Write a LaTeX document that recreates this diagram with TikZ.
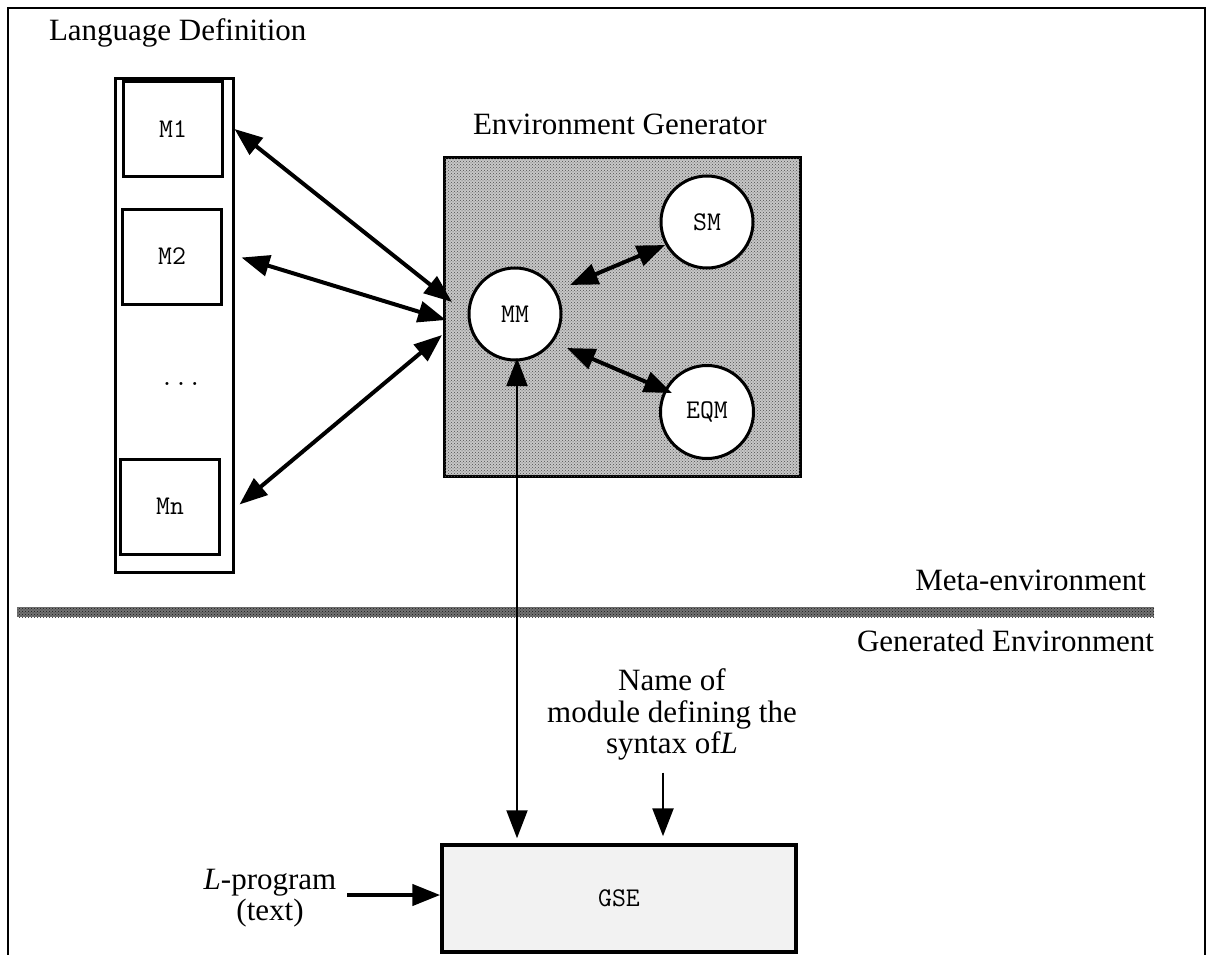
\documentclass[tikz,border=0pt]{standalone}
\usepackage{fontspec}
\setmainfont{Liberation Serif}
\usetikzlibrary{arrows.meta,calc,patterns}

\begin{document}
\begin{tikzpicture}[x=1pt,y=-1pt,
  lbl/.style={font=\fontsize{31}{31.5}\selectfont, inner sep=0pt, outer sep=0pt},
  codefont/.style={font=\ttfamily\fontsize{27}{27}\selectfont},
  modbox/.style={draw, line width=3pt, minimum width=99pt, minimum height=95pt,
    inner sep=0pt, codefont},
  modcirc/.style={circle, draw, line width=3pt, fill=white, minimum size=92pt,
    inner sep=0pt, codefont},
  tipA/.tip={Triangle[length=28pt,width=21pt]},
  link/.style={line width=4pt, tipA-tipA},
  thinlink/.style={line width=2pt, tipA-tipA},
  feed/.style={line width=2.5pt, -tipA},
  boldfeed/.style={line width=4.5pt, -tipA},
  stipple/.style={fill=black!22, postaction={pattern=crosshatch dots, pattern color=black!70}},
]
\useasboundingbox (0,0) rectangle (1207,955);

% outer frame (open at the bottom)
\draw[line width=2.5pt] (8,955) -- (8,8) -- (1205,8) -- (1205,955);

% language definition column with its modules
\node[lbl, anchor=base west] (langdef) at (49,41) {Language Definition};
\node[draw, line width=3pt, minimum width=118pt, minimum height=493pt, inner sep=0pt]
  (col) at (174,325.5) {};
\node[modbox] (M1) at (173,129) {M1};
\node[modbox] (M2) at (172,256.5) {M2};
\node[codefont, inner sep=0pt] (dots) at (181,384) {...};
\node[modbox] (Mn) at (170,506.5) {Mn};

% environment generator
\node[lbl, anchor=base west] (eglabel) at (473,135) {Environment Generator};
\node[draw, line width=3pt, stipple, minimum width=356pt, minimum height=319pt, inner sep=0pt]
  (EG) at (622,316.5) {};
\node[modcirc] (MM) at (515,314) {MM};
\node[modcirc] (SM) at (707,222) {SM};
\node[modcirc, minimum size=93pt] (EQM) at (707,412) {EQM};

% module links
\draw[link] (col.east |- M1) -- ($(MM)+(-63,-12)$);
\draw[link] ($(col.east |- M2)+(7,1)$) -- ($(MM)+(-69,6)$);
\draw[link] ($(col.east |- Mn)+(5,-2)$) -- ($(MM)+(-73,21)$);
\draw[link] ($(MM)+(55,-29)$) -- ($(SM)+(-42,23)$);
\draw[link] ($(MM)+(52,34)$) -- ($(EQM)+(-35,-19)$);

% separation of the two environments
\fill[fill=black!55, postaction={pattern=crosshatch dots, pattern color=black!90}]
  (17,607) rectangle (1154,617);
\node[lbl, anchor=base east] (meta) at (1146,590) {Meta-environment};
\node[lbl, anchor=base east] (gen) at (1154,651) {Generated Environment};

% generated environment
\node[draw, line width=3.5pt, fill=black!5, minimum width=354pt, minimum height=107pt,
  inner sep=0pt, codefont] (GSE) at (619,898.5) {GSE};
\node[lbl, align=center, anchor=north] (name) at (672,669)
  {Name of\\module defining the\\syntax of\textit{L}};
\node[lbl, align=center, anchor=north] (lprog) at (270,869)
  {\textit{L}-program\\(text)};

\draw[thinlink] ($(MM)+(2,44)$) -- ($(GSE.north -| MM)+(2,-5)$);
\draw[feed] ($(name.south)+(-9,12)$) -- ($(GSE.north)+(44,-7)$);
\draw[boldfeed] ($(lprog.east |- GSE.west)+(11,-3.5)$) -- ($(GSE.west)+(0,-3.5)$);
\end{tikzpicture}
\end{document}
